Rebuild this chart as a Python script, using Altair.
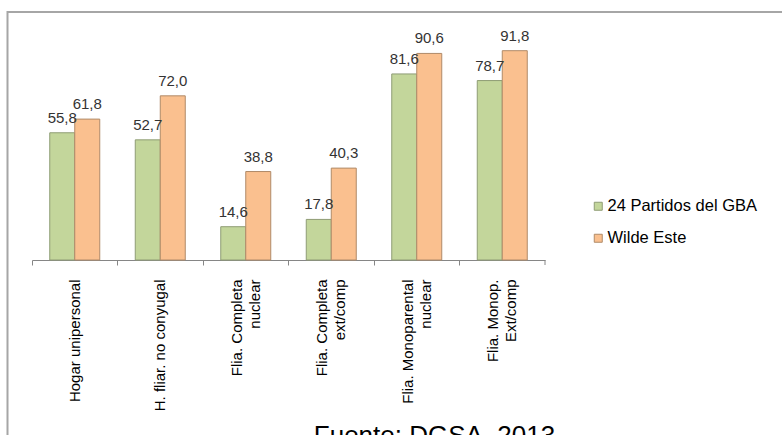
import altair as alt
import pandas as pd

# Household types (second lines get trailing no-break spaces so they sit centred
# under the first line once the labels are rotated)
NBSP = "\u00a0"
categories = [
    "Hogar unipersonal",
    "H. fliar. no conyugal",
    "Flia. Completa\nnuclear" + NBSP * 6,
    "Flia. Completa\next/comp" + NBSP * 4,
    "Flia. Monoparental\nnuclear" + NBSP * 9,
    "Flia. Monop.\nExt/comp" + NBSP * 2,
]
series = ["24 Partidos del GBA", "Wilde Este"]
gba_values = [55.8, 52.7, 14.6, 17.8, 81.6, 78.7]
wilde_values = [61.8, 72.0, 38.8, 40.3, 90.6, 91.8]
source_note = "Fuente: DGSA, 2013"

fills = ["#c3d69b", "#fac08f"]
strokes = ["#8e9c74", "#b08a68"]
FONT = "Liberation Sans, Arial, sans-serif"

rows = []
for cat, g, w in zip(categories, gba_values, wilde_values):
    rows.append({"categoria": cat, "serie": series[0], "valor": g})
    rows.append({"categoria": cat, "serie": series[1], "valor": w})
df = pd.DataFrame(rows)

W, H = 513, 228

x_enc = alt.X(
    "categoria:N",
    sort=categories,
    scale=alt.Scale(paddingInner=0, paddingOuter=0),
    axis=alt.Axis(
        title=None,
        bandPosition=0,
        labelAngle=270,
        labelAlign="right",
        labelBaseline="middle",
        labelPadding=14,
        # two-line labels are nudged left so the pair of lines is centred on the band
        labelOffset={
            "condition": {"test": "indexof(datum.value, '\\n') >= 0", "value": -9},
            "value": 0,
        },
        labelFont=FONT,
        labelFontSize=15,
        labelColor="#000000",
        labelLimit=400,
        labelLineHeight=18,
        labelExpr="split(datum.label, '\\n')",
        domainColor="#868686",
        tickColor="#868686",
        tickSize=5,
        grid=False,
    ),
)
xoff_enc = alt.XOffset(
    "serie:N", sort=series, scale=alt.Scale(paddingInner=0, paddingOuter=0.71)
)
y_enc = alt.Y("valor:Q", scale=alt.Scale(domain=[0, 100]), axis=None)

base = alt.Chart(df)

bars = base.mark_bar(strokeWidth=1).encode(
    x=x_enc,
    xOffset=xoff_enc,
    y=y_enc,
    color=alt.Color(
        "serie:N",
        sort=series,
        scale=alt.Scale(domain=series, range=fills),
        legend=alt.Legend(
            title=None,
            orient="none",
            legendX=558,
            legendY=166,
            symbolType="square",
            symbolSize=64,
            symbolStrokeColor="#999999",
            symbolStrokeWidth=1,
            labelFont=FONT,
            labelFontSize=16.5,
            labelColor="#000000",
            labelOffset=1,
            rowPadding=15,
            padding=0,
        ),
    ),
    stroke=alt.Stroke(
        "serie:N", scale=alt.Scale(domain=series, range=strokes), legend=None
    ),
)

labels = base.transform_calculate(
    etiqueta="replace(format(datum.valor, '.1f'), '.', ',')"
).mark_text(
    font=FONT, fontSize=15, color="#333333", dy=-10, baseline="alphabetic"
).encode(
    x=alt.X("categoria:N", sort=categories),
    xOffset=xoff_enc,
    y=y_enc,
    text="etiqueta:N",
)

note_df = pd.DataFrame({"nota": [source_note]})

# closing tick at the right end of the category axis
end_tick = alt.Chart(note_df).mark_rule(color="#868686").encode(
    x=alt.value(W), y=alt.value(H), y2=alt.value(H + 5)
)

# outer frame of the chart area
frame = alt.Chart(note_df).mark_rect(
    fillOpacity=0, stroke="#a6a6a6", strokeWidth=2
).encode(
    x=alt.value(-24.5), x2=alt.value(790), y=alt.value(-20), y2=alt.value(440)
)

footer = alt.Chart(note_df).mark_text(
    font=FONT, fontSize=26, color="#000000", align="center", baseline="alphabetic"
).encode(
    x=alt.value(402.5), y=alt.value(412), text="nota:N"
)

chart = alt.layer(frame, bars, labels, end_tick, footer).properties(
    width=W,
    height=H,
    autosize=alt.AutoSizeParams(type="none"),
    padding={"left": 32, "top": 32, "right": 782 - 32 - W, "bottom": 435 - 32 - H},
    background="#ffffff",
).configure_view(stroke=None)

chart.save("out.html", embed_options={"renderer": "svg", "actions": False})
